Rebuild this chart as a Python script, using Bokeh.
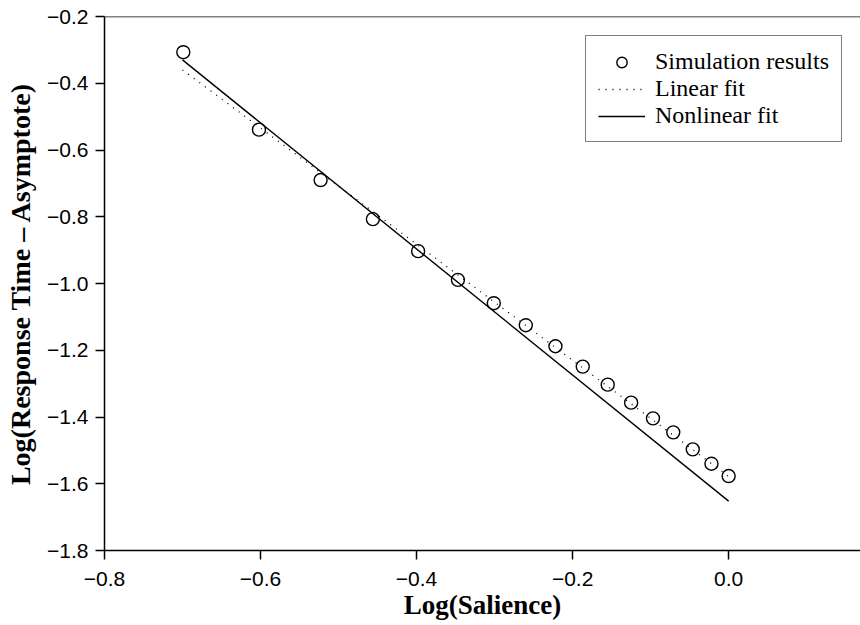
import math
from bokeh.plotting import figure
from bokeh.models import (Range1d, FixedTicker, Span, Legend, LegendItem,
                          ColumnDataSource)
from bokeh.embed import file_html
from bokeh.resources import INLINE

# ---- data ----
log_salience = [-0.699, -0.602, -0.523, -0.456, -0.398, -0.347, -0.301, -0.260,
                -0.222, -0.187, -0.155, -0.125, -0.097, -0.071, -0.046, -0.022, 0.0]
log_rt = [-0.307, -0.539, -0.690, -0.807, -0.903, -0.989, -1.059, -1.125,
          -1.188, -1.249, -1.303, -1.357, -1.404, -1.446, -1.497, -1.540, -1.577]
fit_x = [-0.70, 0.0]
linear_fit = [-0.360, -1.578]
nonlinear_fit = [-0.330, -1.652]

x_ticks = [-0.8, -0.6, -0.4, -0.2, 0.0]
x_tick_labels = ["\u22120.8", "\u22120.6", "\u22120.4", "\u22120.2", "0.0"]
y_ticks = [-1.8, -1.6, -1.4, -1.2, -1.0, -0.8, -0.6, -0.4, -0.2]
y_tick_labels = ["\u22121.8", "\u22121.6", "\u22121.4", "\u22121.2", "\u22121.0",
                 "\u22120.8", "\u22120.6", "\u22120.4", "\u22120.2"]

x_title = "Log(Salience)"
y_title = "Log(Response Time \u2013 Asymptote)"
legend_labels = ["Simulation results", "Linear fit", "Nonlinear fit"]

SERIF = "Liberation Serif"
SANS = "Liberation Sans"

p = figure(width=860, height=625, output_backend="svg", toolbar_location=None,
           x_range=Range1d(-0.8, 0.169), y_range=Range1d(-1.8, -0.2),
           min_border_left=104, min_border_right=0, min_border_top=16,
           min_border_bottom=75)
p.outline_line_color = None
p.grid.visible = False
p.background_fill_color = "white"
p.border_fill_color = "white"

for ax, ticks, labels in ((p.xaxis[0], x_ticks, x_tick_labels),
                          (p.yaxis[0], y_ticks, y_tick_labels)):
    ax.ticker = FixedTicker(ticks=ticks)
    ax.major_label_overrides = {t: l for t, l in zip(ticks, labels)}
    ax.major_tick_in = 0
    ax.major_tick_out = 9
    ax.minor_tick_line_color = None
    ax.axis_line_width = 1.5
    ax.major_tick_line_width = 1.5
    ax.axis_line_color = "black"
    ax.major_tick_line_color = "black"
    ax.major_label_text_font = SANS
    ax.major_label_text_font_size = "21px"
    ax.major_label_text_color = "black"
    ax.axis_label_text_font = SERIF
    ax.axis_label_text_font_style = "bold"
    ax.axis_label_text_color = "black"
p.xaxis[0].axis_label_text_font_size = "27px"
p.yaxis[0].axis_label_text_font_size = "28px"
p.xaxis[0].major_label_standoff = 12
p.yaxis[0].major_label_standoff = 7
p.xaxis[0].axis_label = x_title
p.yaxis[0].axis_label = y_title
p.xaxis[0].axis_label_standoff = 1
p.yaxis[0].axis_label_standoff = 8

# top frame line
p.add_layout(Span(location=-0.2, dimension="width", line_color="black", line_width=1.5))

src = ColumnDataSource(dict(x=log_salience, y=log_rt))
r_lin = p.line(fit_x, linear_fit, line_color="black", line_width=1.3, line_dash="1 6")
r_non = p.line(fit_x, nonlinear_fit, line_color="black", line_width=1.4)
r_pts = p.scatter("x", "y", source=src, marker="circle", size=13,
                  fill_color=None, line_color="black", line_width=1.4)

legend = Legend(items=[LegendItem(label=legend_labels[0], renderers=[r_pts]),
                       LegendItem(label=legend_labels[1], renderers=[r_lin]),
                       LegendItem(label=legend_labels[2], renderers=[r_non])],
                location=(481, 408))
legend.label_text_font = SERIF
legend.label_text_font_size = "24px"
legend.label_text_color = "black"
legend.label_height = 26
legend.glyph_height = 26
legend.glyph_width = 47
legend.label_standoff = 10
legend.spacing = 0
legend.padding = 12
legend.margin = 0
legend.border_line_color = "black"
legend.border_line_width = 1.2
legend.background_fill_alpha = 1
p.add_layout(legend, "center")

open("out.html", "w").write(file_html(p, INLINE))
